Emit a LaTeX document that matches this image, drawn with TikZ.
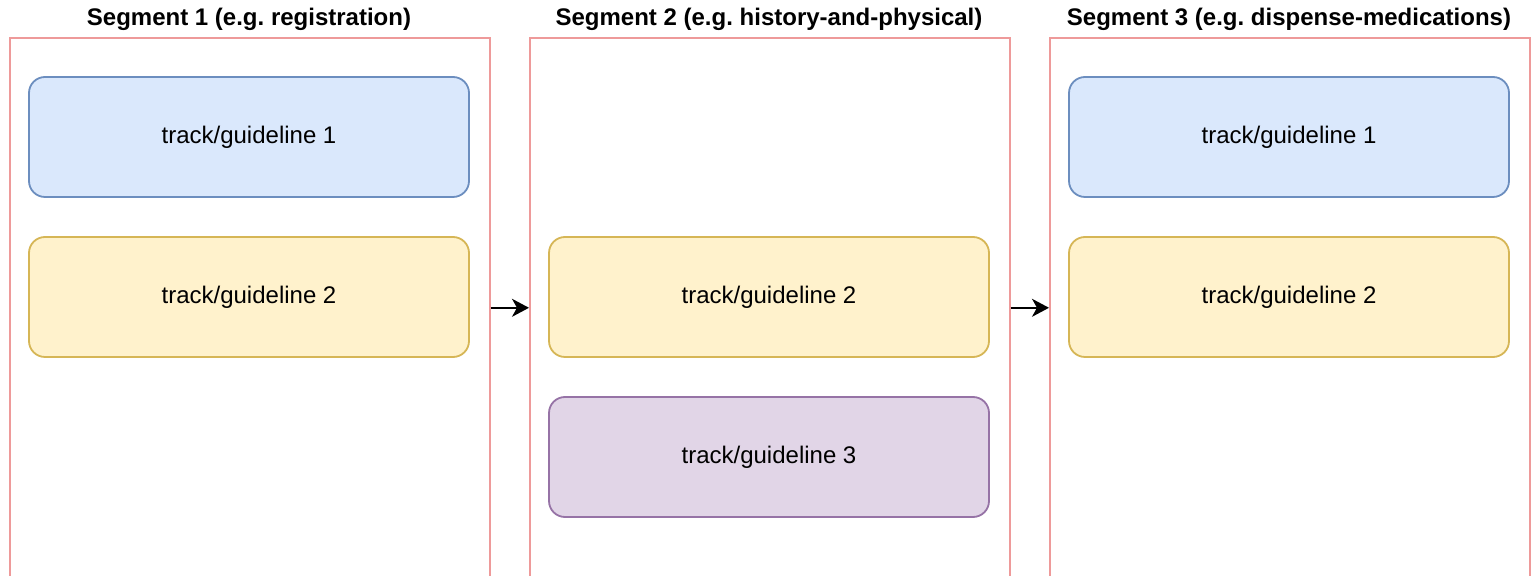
\documentclass[tikz,border=0pt]{standalone}
\usepackage{fontspec}
\setmainfont{Liberation Sans}
\usetikzlibrary{arrows.meta}
\definecolor{segline}{HTML}{EE9A9A}
\definecolor{bluefill}{HTML}{DAE8FC}
\definecolor{blueline}{HTML}{6C8EBF}
\definecolor{yellowfill}{HTML}{FFF2CC}
\definecolor{yellowline}{HTML}{D6B656}
\definecolor{purplefill}{HTML}{E1D5E7}
\definecolor{purpleline}{HTML}{9673A6}
\tikzset{
  segbox/.style={draw=segline, line width=0.8pt, minimum width=240pt, minimum height=270pt, anchor=north west, inner sep=0pt},
  segtitle/.style={font=\frenchspacing\bfseries\fontsize{12pt}{14pt}\selectfont, text=black, inner sep=0pt},
  trackbox/.style={rounded corners=8pt, line width=0.9pt, minimum width=220pt, minimum height=60pt, font=\fontsize{12pt}{14pt}\selectfont, text=black, inner sep=0pt},
  bluebox/.style={trackbox, draw=blueline, fill=bluefill},
  yellowbox/.style={trackbox, draw=yellowline, fill=yellowfill},
  purplebox/.style={trackbox, draw=purpleline, fill=purplefill},
  flow/.style={line width=0.9pt, -{Stealth[length=8.5pt,width=9pt,inset=2.5pt]}}
}
\begin{document}
\begin{tikzpicture}[x=0.5pt,y=-0.5pt]
\useasboundingbox (0,0) rectangle (1531,576);
\clip (0,0) rectangle (1531,576);
\fill[white] (0,0) rectangle (1531,576);
% segments
\node[segbox] (s1) at (9,37) {};
\node[segbox] (s2) at (529,37) {};
\node[segbox] (s3) at (1049,37) {};
% titles
\node[segtitle] (t1) at (249,19) {Segment 1 (e.g. registration)};
\node[segtitle] (t2) at (769,19) {Segment 2 (e.g. history-and-physical)};
\node[segtitle] (t3) at (1289,19) {Segment 3 (e.g. dispense-medications)};
% tracks
\node[bluebox] (a1) at (249,137) {\raisebox{-1pt}{track/guideline 1}};
\node[yellowbox] (a2) at (249,297) {\raisebox{-1pt}{track/guideline 2}};
\node[yellowbox] (b2) at (769,297) {\raisebox{-1pt}{track/guideline 2}};
\node[purplebox] (b3) at (769,457) {\raisebox{-1pt}{track/guideline 3}};
\node[bluebox] (c1) at (1289,137) {\raisebox{-1pt}{track/guideline 1}};
\node[yellowbox] (c2) at (1289,297) {\raisebox{-1pt}{track/guideline 2}};
% arrows
\draw[flow] (s1.east) -- (s2.west);
\draw[flow] (s2.east) -- (s3.west);
\end{tikzpicture}
\end{document}
